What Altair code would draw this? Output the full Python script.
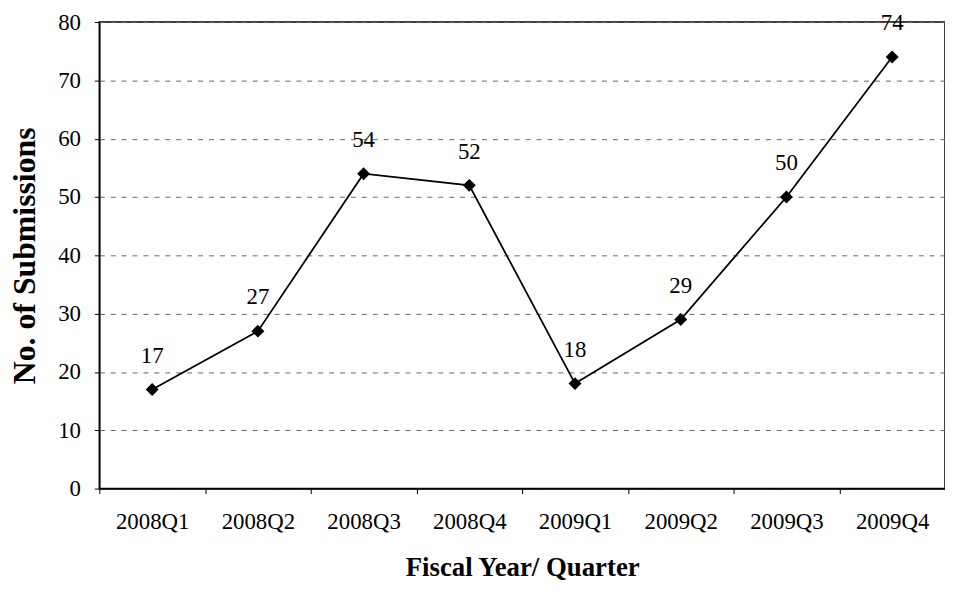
import altair as alt
import pandas as pd

quarters = ["2008Q1", "2008Q2", "2008Q3", "2008Q4", "2009Q1", "2009Q2", "2009Q3", "2009Q4"]
submissions = [17, 27, 54, 52, 18, 29, 50, 74]

df = pd.DataFrame({"quarter": quarters, "n": submissions})

FONT = "Liberation Serif"

x = alt.X("quarter:N", sort=quarters, scale=alt.Scale(paddingInner=0, paddingOuter=0),
          axis=alt.Axis(title="Fiscal Year/ Quarter", labelAngle=0, tickBand="extent",
                        labelFont=FONT, labelFontSize=23, labelColor="black", labelPadding=17,
                        titleFont=FONT, titleFontSize=27, titleFontWeight="bold", titleColor="black",
                        titlePadding=22, domainColor="black", domainWidth=1.5,
                        tickColor="black", tickSize=5, grid=False))
y = alt.Y("n:Q", scale=alt.Scale(domain=[0, 80], nice=False),
          axis=alt.Axis(title="No. of Submissions", values=list(range(0, 81, 10)),
                        labelFont=FONT, labelFontSize=23, labelColor="black", labelPadding=14,
                        titleFont=FONT, titleFontSize=32, titleFontWeight="bold", titleColor="black",
                        titlePadding=16, domainColor="black", domainWidth=1.5,
                        tickColor="black", tickSize=5,
                        grid=True, gridColor="#666666", gridDash=[5, 6], gridWidth=1))

base = alt.Chart(df)
line = base.mark_line(color="black", strokeWidth=1.8).encode(x=x, y=y)
pts = base.mark_point(shape="diamond", filled=True, color="black", size=170, opacity=1).encode(x=x, y=y)
labels = base.mark_text(font=FONT, fontSize=23, color="black", dy=-34).encode(x=x, y=y, text="n:Q")

chart = (line + pts + labels).properties(
    width=852, height=470,
    autosize=alt.AutoSizeParams(type="none"),
    padding={"left": 92, "top": 12, "right": 0, "bottom": 100},
).configure_view(stroke="black", strokeWidth=1.5)

chart.save("out.html", embed_options={"renderer": "svg", "actions": False})
